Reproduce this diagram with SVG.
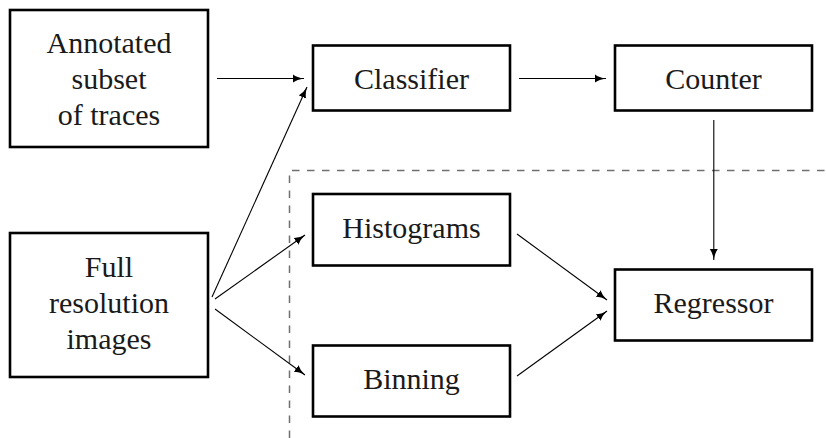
<svg xmlns="http://www.w3.org/2000/svg" width="826" height="438" viewBox="0 0 826 438">
<style>
.box{fill:#fff;stroke:#000;stroke-width:2.6}
.t{font-size:30px;fill:#1a1a1a;text-anchor:middle}
.c{fill:none;stroke:#000;stroke-width:1.1}
.dash{fill:none;stroke:#707070;stroke-width:1.5;stroke-dasharray:7.5 7.5}
</style>
<defs>
<marker id="ah" markerUnits="userSpaceOnUse" markerWidth="12" markerHeight="10" refX="11" refY="4.5" orient="auto">
<path d="M0,0.5 Q4,3.5 11,4.5 Q4,5.5 0,8.5 Z" fill="#000"/>
</marker>
</defs>
<path class="dash" d="M289.5,438 V170.5 H826"/>
<g font-family="Liberation Serif, DejaVu Serif, serif">
<g id="annotated"><rect class="box" x="10" y="10" width="198" height="137"/><text class="t" x="109" y="53">Annotated</text><text class="t" x="109" y="89">subset</text><text class="t" x="109" y="125">of traces</text></g>
<g id="classifier"><rect class="box" x="313" y="45.5" width="197" height="65"/><text class="t" x="411.5" y="88.5">Classifier</text></g>
<g id="counter"><rect class="box" x="615" y="45.5" width="197" height="65"/><text class="t" x="713.5" y="88.5">Counter</text></g>
<g id="full"><rect class="box" x="10" y="233" width="198" height="144"/><text class="t" x="109" y="277">Full</text><text class="t" x="109" y="313">resolution</text><text class="t" x="109" y="349">images</text></g>
<g id="histograms"><rect class="box" x="313" y="194" width="197" height="71.5"/><text class="t" x="411.5" y="238">Histograms</text></g>
<g id="binning"><rect class="box" x="313" y="345.5" width="197" height="71"/><text class="t" x="411.5" y="389">Binning</text></g>
<g id="regressor"><rect class="box" x="615" y="269.5" width="197" height="71"/><text class="t" x="713.5" y="313">Regressor</text></g>
</g>
<g id="connectors">
<path class="c" marker-end="url(#ah)" d="M217,78.5 H304"/>
<path class="c" marker-end="url(#ah)" d="M519,78.5 H606"/>
<path class="c" marker-end="url(#ah)" d="M713.8,120 V260"/>
<path class="c" marker-end="url(#ah)" d="M212,297 L307,87"/>
<path class="c" marker-end="url(#ah)" d="M215,299 L305,235"/>
<path class="c" marker-end="url(#ah)" d="M215,309 L305,375"/>
<path class="c" marker-end="url(#ah)" d="M517,234 L607,300"/>
<path class="c" marker-end="url(#ah)" d="M517,376 L607,311"/>
</g>
</svg>
